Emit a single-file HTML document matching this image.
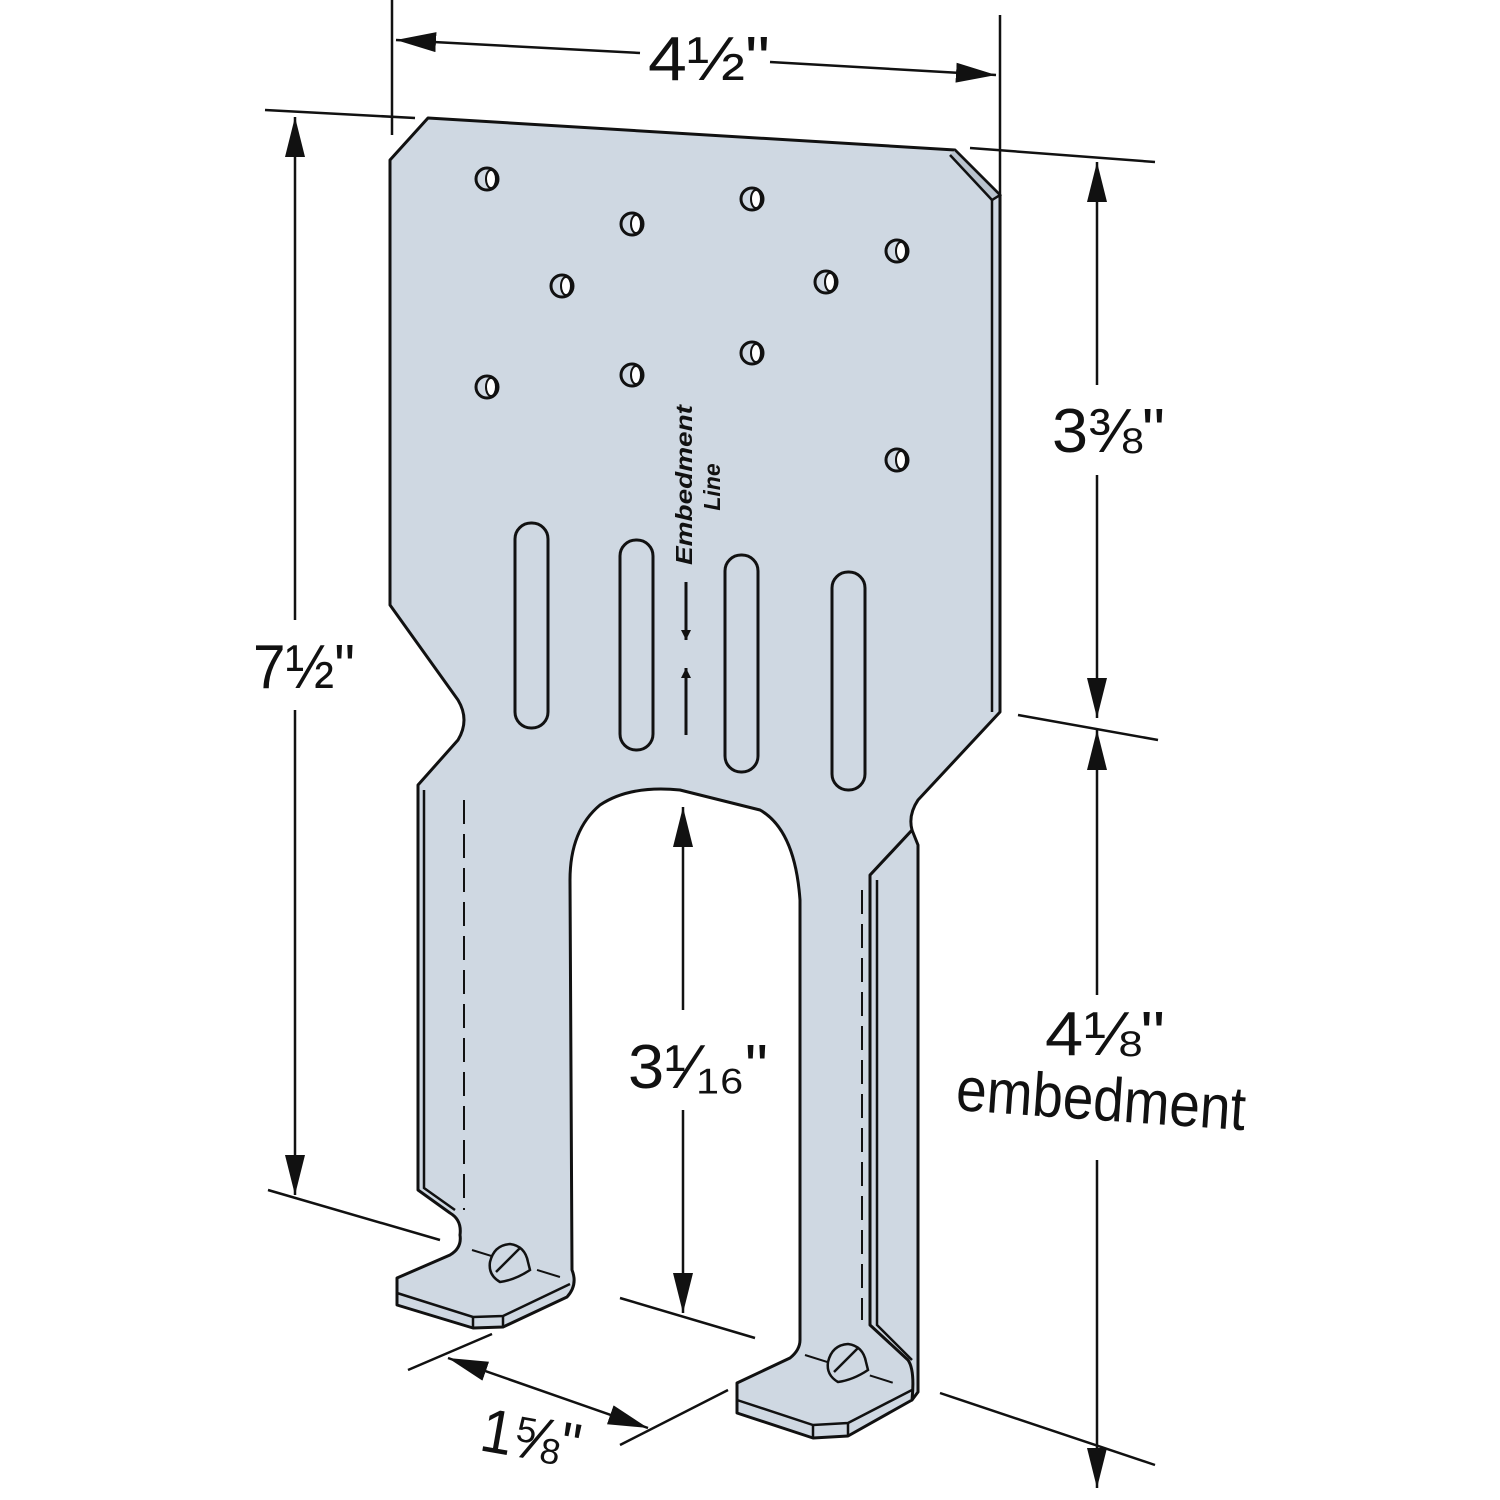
<!DOCTYPE html>
<html><head><meta charset="utf-8"><style>
html,body{margin:0;padding:0;background:#fff}
svg{display:block}
text{font-family:"Liberation Sans",sans-serif;fill:#111}
</style></head><body>
<svg width="1500" height="1500" viewBox="0 0 1500 1500" xmlns="http://www.w3.org/2000/svg">
<defs>
<marker id="a" viewBox="0 0 10 10" refX="10" refY="5" markerWidth="10" markerHeight="10" markerUnits="userSpaceOnUse" orient="auto-start-reverse">
<path d="M0,0 L10,5 L0,10 z" fill="#111"/></marker>
<marker id="b" viewBox="0 0 40 20" refX="40" refY="10" markerWidth="40" markerHeight="20" markerUnits="userSpaceOnUse" orient="auto-start-reverse">
<path d="M0,0 L40,10 L0,20 z" fill="#111"/></marker>
</defs>
<g stroke="#111" stroke-width="3" stroke-linejoin="round" fill="#cfd8e2">
<path d="M870,875 L912,830 L918,845 L918,1392 L912,1400 L870,1380 z"/>
<path d="M428,118 L955,150 L1000,195 L1000,712 L918,800 Q908,815 912,830 L870,875 L870,1325 L908,1360 Q915,1370 912,1400 L848,1436 L813,1438 L737,1413 L737,1383 L790,1358 Q800,1350 800,1340 L800,900 Q795,830 760,810 L680,790 Q630,785 600,805 Q570,830 570,880 L572,1270 Q578,1285 567,1297 L503,1327 L473,1328 L397,1305 L397,1278 L450,1255 Q462,1248 460,1235 Q462,1220 450,1213 L418,1190 L418,785 L458,740 Q470,720 458,700 L390,605 L390,160 z"/>
</g>
<path d="M955,150 L1000,195 L992,200 L950,155" fill="#b9c3ce" stroke="#111" stroke-width="2.5"/>
<g stroke="#111" stroke-width="2.5" fill="none">
<line x1="992" y1="200" x2="992" y2="712"/>
<polyline points="424,790 424,1188 455,1210"/>
<polyline points="877,880 877,1325 912,1360"/>
<polyline points="397,1293 473,1317 503,1316 570,1284"/>
<line x1="473" y1="1317" x2="473" y2="1328"/><line x1="503" y1="1316" x2="503" y2="1327"/>
<polyline points="737,1400 813,1425 848,1423 912,1390"/>
<line x1="813" y1="1425" x2="813" y2="1438"/><line x1="848" y1="1423" x2="848" y2="1436"/>
</g>
<g stroke="#111" stroke-width="2" fill="none" stroke-dasharray="24,10">
<line x1="464" y1="800" x2="464" y2="1210"/>
<line x1="472" y1="1250" x2="560" y2="1277"/>
<line x1="862" y1="890" x2="862" y2="1320"/>
<line x1="805" y1="1355" x2="900" y2="1385"/>
</g>
<g stroke="#111" stroke-width="2.5" fill="#cfd8e2">
<path d="M490,1262 Q494,1245 510,1244 Q525,1246 528,1262 L530,1270 Q515,1280 500,1282 Q488,1275 490,1262 z"/>
<line x1="496" y1="1272" x2="520" y2="1248"/>
<path d="M828,1362 Q832,1345 848,1344 Q863,1346 866,1362 L868,1370 Q853,1380 838,1382 Q826,1375 828,1362 z"/>
<line x1="834" y1="1372" x2="858" y2="1348"/>
</g>
<g stroke="#111" stroke-width="3" fill="#cfd8e2">
<circle cx="487" cy="179" r="11"/><circle cx="752" cy="199" r="11"/><circle cx="632" cy="224" r="11"/>
<circle cx="897" cy="251" r="11"/><circle cx="562" cy="286" r="11"/><circle cx="826" cy="282" r="11"/>
<circle cx="752" cy="353" r="11"/><circle cx="632" cy="375" r="11"/><circle cx="487" cy="387" r="11"/>
<circle cx="897" cy="460" r="11"/>
</g>
<g fill="#fff" stroke="#111" stroke-width="2">
<ellipse cx="491" cy="179" rx="5" ry="9"/><ellipse cx="756" cy="199" rx="5" ry="9"/><ellipse cx="636" cy="224" rx="5" ry="9"/>
<ellipse cx="901" cy="251" rx="5" ry="9"/><ellipse cx="566" cy="286" rx="5" ry="9"/><ellipse cx="830" cy="282" rx="5" ry="9"/>
<ellipse cx="756" cy="353" rx="5" ry="9"/><ellipse cx="636" cy="375" rx="5" ry="9"/><ellipse cx="491" cy="387" rx="5" ry="9"/>
<ellipse cx="901" cy="460" rx="5" ry="9"/>
</g>
<g stroke="#111" stroke-width="3" fill="none">
<rect x="515" y="523" width="33" height="205" rx="16"/>
<rect x="620" y="540" width="33" height="210" rx="16"/>
<rect x="725" y="555" width="33" height="217" rx="16"/>
<rect x="832" y="572" width="33" height="218" rx="16"/>
</g>
<text transform="translate(692,485) rotate(-90)" font-size="23" font-weight="bold" font-style="italic" text-anchor="middle" textLength="160" lengthAdjust="spacingAndGlyphs">Embedment</text>
<text transform="translate(720,487) rotate(-90)" font-size="23" font-weight="bold" font-style="italic" text-anchor="middle">Line</text>
<g stroke="#111" stroke-width="3">
<line x1="686" y1="582" x2="686" y2="640" marker-end="url(#a)"/>
<line x1="686" y1="735" x2="686" y2="668" marker-end="url(#a)"/>
</g>
<g stroke="#111" stroke-width="2.5" fill="none">
<line x1="392" y1="0" x2="392" y2="135"/>
<line x1="1000" y1="15" x2="1000" y2="200"/>
<line x1="396" y1="40" x2="640" y2="53" marker-start="url(#b)"/>
<line x1="770" y1="62" x2="996" y2="75" marker-end="url(#b)"/>
<line x1="265" y1="110" x2="415" y2="118"/>
<line x1="268" y1="1190" x2="440" y2="1240"/>
<line x1="295" y1="117" x2="295" y2="620" marker-start="url(#b)"/>
<line x1="295" y1="710" x2="295" y2="1195" marker-end="url(#b)"/>
<line x1="970" y1="148" x2="1155" y2="162"/>
<line x1="1018" y1="715" x2="1158" y2="740"/>
<line x1="940" y1="1393" x2="1155" y2="1465"/>
<line x1="1097" y1="162" x2="1097" y2="385" marker-start="url(#b)"/>
<line x1="1097" y1="475" x2="1097" y2="718" marker-end="url(#b)"/>
<line x1="1097" y1="730" x2="1097" y2="995" marker-start="url(#b)"/>
<line x1="1097" y1="1160" x2="1097" y2="1488" marker-end="url(#b)"/>
<line x1="683" y1="807" x2="683" y2="1010" marker-start="url(#b)"/>
<line x1="683" y1="1110" x2="683" y2="1313" marker-end="url(#b)"/>
<line x1="620" y1="1298" x2="755" y2="1338"/>
<line x1="408" y1="1370" x2="492" y2="1334"/>
<line x1="620" y1="1445" x2="728" y2="1390"/>
<line x1="448" y1="1358" x2="648" y2="1428" marker-start="url(#b)" marker-end="url(#b)"/>
</g>
<g font-size="62">
<text x="648" y="80" textLength="122" lengthAdjust="spacingAndGlyphs">4½"</text>
<text x="253" y="688" textLength="102" lengthAdjust="spacingAndGlyphs">7½"</text>
<text x="1052" y="452" textLength="113" lengthAdjust="spacingAndGlyphs">3⅜"</text>
<text x="628" y="1088" textLength="140" lengthAdjust="spacingAndGlyphs">3¹⁄₁₆"</text>
<text x="1045" y="1055" textLength="120" lengthAdjust="spacingAndGlyphs">4⅛"</text>
<text x="955" y="1110" transform="rotate(4 955 1110)" textLength="290" lengthAdjust="spacingAndGlyphs">embedment</text>
<text x="478" y="1450" transform="rotate(10 478 1450)" textLength="100" lengthAdjust="spacingAndGlyphs">1⅝"</text>
</g>
</svg>
</body></html>
